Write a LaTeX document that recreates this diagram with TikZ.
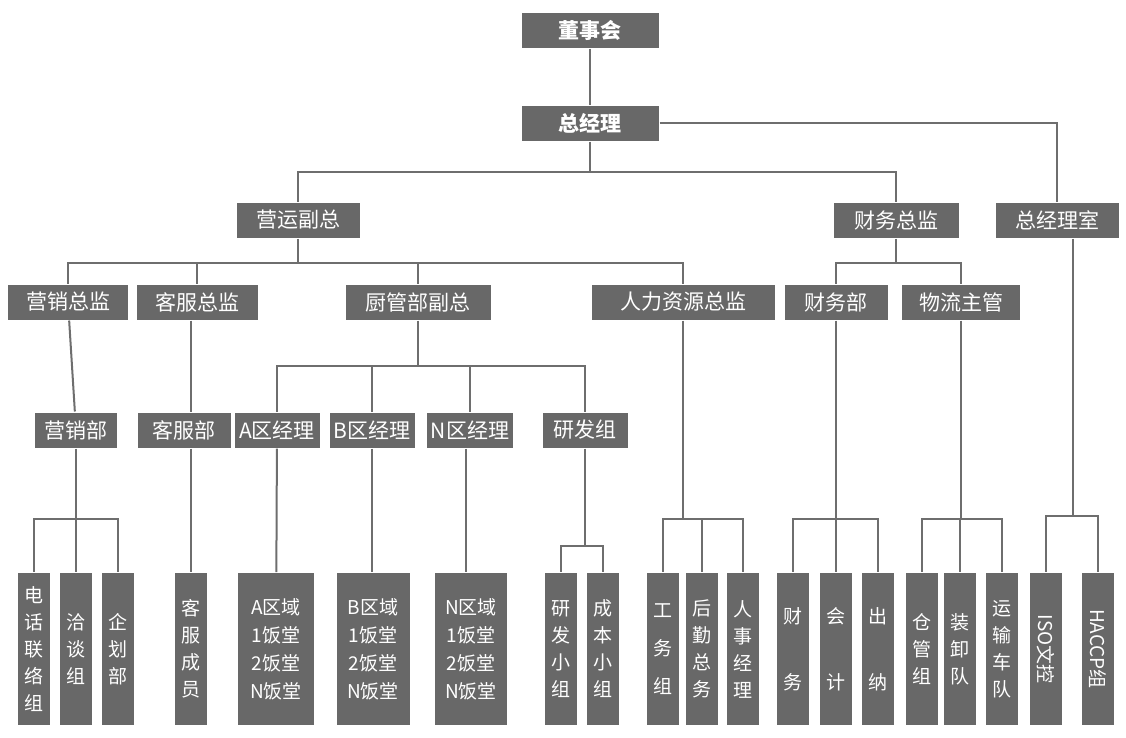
\documentclass[tikz,border=0pt]{standalone}
\usepackage{fontspec}
\setmainfont{Noto Sans CJK SC}
\usetikzlibrary{positioning}
\definecolor{boxgray}{HTML}{686868}
\definecolor{linegray}{HTML}{6E6E6E}

\begin{document}
\begin{tikzpicture}[x=1pt,y=-1pt,line width=2pt,draw=linegray]
	\tikzstyle{box}=[fill=boxgray,text=white,inner sep=0pt,minimum height=35pt,font=\fontsize{21}{24}\selectfont]
	\tikzstyle{col}=[box,minimum width=32pt,minimum height=152pt,align=center,font=\fontsize{19}{27}\selectfont]
	\tikzstyle{wide}=[col,minimum width=76pt,font=\fontsize{19}{28}\selectfont]
	\useasboundingbox (0,0) rectangle (1126,737);

	% top
	\node[box,minimum width=137pt,font=\fontsize{21}{24}\selectfont\bfseries] (dsh) at (590,30) {董事会};
	\node[box,minimum width=137pt,font=\fontsize{21}{24}\selectfont\bfseries] (zjl) at (590,123) {总经理};
	\node[box,minimum width=123pt] (yyfz) at (298,220) {营运副总};
	\node[box,minimum width=125pt] (cwzj) at (896,220) {财务总监};
	\node[box,minimum width=123pt] (zjls) at (1057,220) {总经理室};

	% row 3
	\node[box,minimum width=120pt] (yxzj) at (68,302) {营销总监};
	\node[box,minimum width=121pt] (kfzj) at (197,302) {客服总监};
	\node[box,minimum width=145pt] (cgfz) at (418,302) {厨管部副总};
	\node[box,minimum width=183pt] (rlzj) at (683,302) {人力资源总监};
	\node[box,minimum width=103pt] (cwb) at (836,302) {财务部};
	\node[box,minimum width=118pt] (wlzg) at (961,302) {物流主管};

	% row 4
	\node[box,minimum width=82pt] (yxb) at (76,430) {营销部};
	\node[box,minimum width=93pt] (kfb) at (184,430) {客服部};
	\node[box,minimum width=85pt] (ajl) at (277,430) {A区经理};
	\node[box,minimum width=85pt] (bjl) at (372,430) {B区经理};
	\node[box,minimum width=86pt] (njl) at (470,430) {N区经理};
	\node[box,minimum width=85pt] (yfz) at (585,430) {研发组};

	% bottom
	\node[col] (dh) at (34,649) {电\\话\\联\\络\\组};
	\node[col] (qt) at (76,649) {洽\\谈\\组};
	\node[col] (qh) at (118,649) {企\\划\\部};
	\node[col] (kfcy) at (191,649) {客\\服\\成\\员};
	\node[wide] (aqy) at (276,649) {A区域\\1饭堂\\2饭堂\\N饭堂};
	\node[wide,minimum width=73pt] (bqy) at (373,649) {B区域\\1饭堂\\2饭堂\\N饭堂};
	\node[wide,minimum width=72pt] (nqy) at (471,649) {N区域\\1饭堂\\2饭堂\\N饭堂};
	\node[col] (yfxz) at (561,649) {研\\发\\小\\组};
	\node[col] (cbxz) at (603,649) {成\\本\\小\\组};
	\node[col,font=\fontsize{19}{38}\selectfont] (gwz) at (663,649) {工\\务\\组};
	\node[col] (hqzw) at (702,649) {后\\勤\\总\\务};
	\node[col] (rsjl) at (743,649) {人\\事\\经\\理};
	\node[col,font=\fontsize{19}{66}\selectfont] (cw) at (793,649) {财\\务};
	\node[col,font=\fontsize{19}{66}\selectfont] (kj) at (836,649) {会\\计};
	\node[col,font=\fontsize{19}{66}\selectfont] (cn) at (878,649) {出\\纳};
	\node[col] (cgz) at (922,649) {仓\\管\\组};
	\node[col] (zxd) at (960,649) {装\\卸\\队};
	\node[col] (ysd) at (1002,649) {运\\输\\车\\队};
	\node[col] (iso) at (1046,649) {};
	\node[rotate=-90,text=white,font=\fontsize{19}{24}\selectfont] (isot) at (iso) {ISO文控};
	\node[col] (haccp) at (1098,649) {};
	\node[rotate=-90,text=white,font=\fontsize{19}{24}\selectfont] (haccpt) at (haccp) {HACCP组};

	% connectors
	\draw (dsh) -- (zjl);
	\draw (zjl.south) -- ++(0,30) coordinate (b1);
	\foreach \c in {yyfz,cwzj} \draw (b1) -| (\c.north);
	\draw (zjl.east) -| (zjls.north);
	\draw (yyfz.south) -- ++(0,24) coordinate (b2);
	\foreach \c in {yxzj,kfzj,cgfz,rlzj} \draw (b2) -| (\c.north);
	\draw (cwzj.south) -- ++(0,24) coordinate (b3);
	\foreach \c in {cwb,wlzg} \draw (b3) -| (\c.north);
	\draw (yxzj) -- (yxb);
	\draw (kfzj.south) ++(-6,0) coordinate (k1) -- (k1 |- kfb.north);
	\draw (cgfz.south) -- ++(0,45) coordinate (b4);
	\foreach \c in {ajl,bjl,njl,yfz} \draw (b4) -| (\c.north);
	\draw (yxb.south) -- ++(0,70) coordinate (b5);
	\foreach \c in {dh,qt,qh} \draw (b5) -| (\c.north);
	\draw (kfb.south -| kfcy.north) -- (kfcy.north);
	\draw (ajl) -- (aqy);
	\draw (bjl) -- (bjl |- bqy.north);
	\draw (njl.south) ++(-4,0) coordinate (n1) -- (n1 |- nqy.north);
	\draw (yfz.south) -- ++(0,97) coordinate (b6);
	\foreach \c in {yfxz,cbxz} \draw (b6) -| (\c.north);
	\draw (rlzj.south) -- ++(0,198) coordinate (b7);
	\foreach \c in {gwz,hqzw,rsjl} \draw (b7) -| (\c.north);
	\draw (cwb.south) -- ++(0,198) coordinate (b8);
	\foreach \c in {cw,kj,cn} \draw (b8) -| (\c.north);
	\draw (wlzg.south) -- ++(0,198) coordinate (b9);
	\foreach \c in {cgz,zxd,ysd} \draw (b9) -| (\c.north);
	\draw (zjls.south) ++(16,0) coordinate (z1) -- ++(0,277) coordinate (b10);
	\foreach \c in {iso,haccp} \draw (b10) -| (\c.north);
\end{tikzpicture}
\end{document}
